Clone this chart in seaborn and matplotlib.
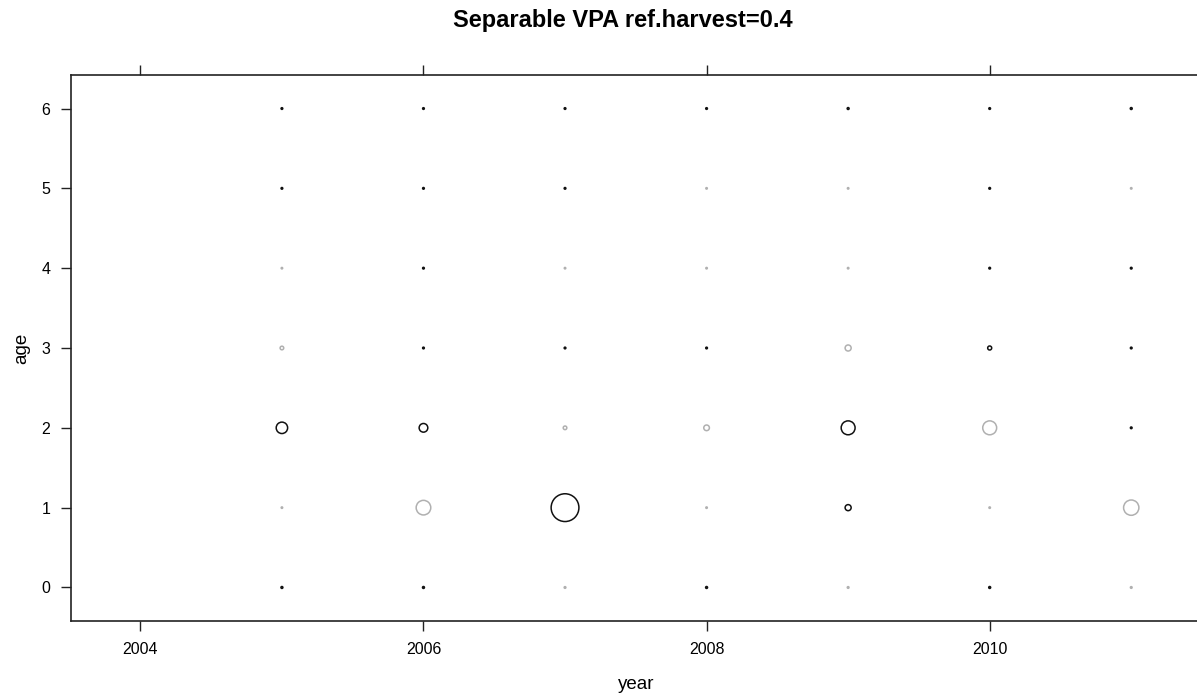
import matplotlib
matplotlib.use("Agg")
import matplotlib.pyplot as plt
import pandas as pd
import seaborn as sns

# residuals by age (columns = years), black = positive, grey = negative
years = [2005, 2006, 2007, 2008, 2009, 2010, 2011]
ages = [0, 1, 2, 3, 4, 5, 6]
age0 = [0.12, 0.12, -0.10, 0.12, -0.10, 0.12, -0.10]
age1 = [-0.08, -1.05, 2.00, -0.08, 0.43, -0.08, -1.10]
age2 = [0.82, 0.62, -0.25, -0.40, 1.00, -1.00, 0.10]
age3 = [-0.25, 0.10, 0.10, 0.10, -0.43, 0.28, 0.10]
age4 = [-0.08, 0.10, -0.08, -0.08, -0.08, 0.10, 0.10]
age5 = [0.10, 0.10, 0.10, -0.08, -0.08, 0.10, -0.08]
age6 = [0.10, 0.10, 0.10, 0.10, 0.12, 0.10, 0.12]
x_ticks = [2004, 2006, 2008, 2010]

rows = []
for a, vals in zip(ages, [age0, age1, age2, age3, age4, age5, age6]):
    for yr, v in zip(years, vals):
        rows.append({'year': yr, 'age': a, 'res': v})
df = pd.DataFrame(rows)
df['area'] = df['res'] ** 2
vmax = df['area'].max()

sns.set_style('ticks')
plt.rcParams['font.family'] = ['Liberation Sans', 'DejaVu Sans']
plt.rcParams['text.color'] = 'black'
plt.rcParams['axes.labelcolor'] = 'black'
plt.rcParams['xtick.color'] = 'black'
plt.rcParams['ytick.color'] = 'black'

fig = plt.figure(figsize=(11.97, 6.97), dpi=100)
ax = fig.add_axes([71 / 1197, 76 / 697, (1200.6 - 71) / 1197, 546 / 697])

pos = df[df['res'] > 0]
neg = df[df['res'] <= 0]
sns.scatterplot(data=neg, x='year', y='age', size='area', sizes=(0.5, 400),
                size_norm=(0, vmax), facecolor='none', edgecolor='#b0b0b0',
                linewidth=1.1, legend=False, ax=ax)
sns.scatterplot(data=pos, x='year', y='age', size='area', sizes=(0.5, 400),
                size_norm=(0, vmax), facecolor='none', edgecolor='#111111',
                linewidth=1.1, legend=False, ax=ax)

ax.set_xlim(2003.51, 2011.49)
ax.set_ylim(-0.42, 6.42)
ax.set_xticks(x_ticks)
ax.set_xticklabels([str(t) for t in x_ticks])
ax.set_yticks(ages)
ax.tick_params(axis='both', direction='out', length=7, width=1, color='#222222',
               labelsize=11.5, pad=8, top=True, right=True)
for sp in ax.spines.values():
    sp.set_linewidth(1.2)
    sp.set_color('#222222')

ax.set_xlabel('year', fontsize=13.5, labelpad=14)
ax.set_ylabel('age', fontsize=13.5, labelpad=8)
fig.text(623 / 1197, 1 - 21 / 697, 'Separable VPA ref.harvest=0.4', ha='center',
         va='center', fontsize=17, fontweight='bold')

fig.savefig('out.png', dpi=100)
